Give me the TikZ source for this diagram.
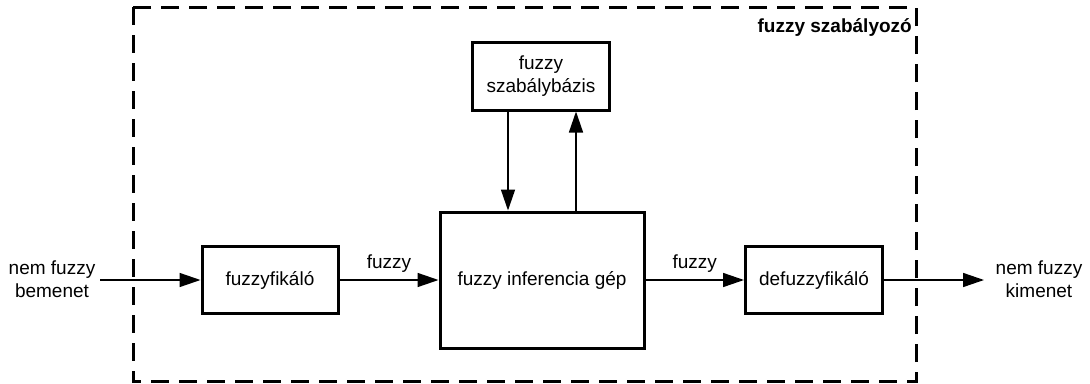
\documentclass[tikz,border=0pt]{standalone}
\usepackage{fontspec}
\setmainfont{Liberation Sans}
\usetikzlibrary{arrows.meta}
\begin{document}
\begin{tikzpicture}[x=1pt,y=-1pt,
    every node/.style={font=\fontsize{19}{23}\selectfont},
    block/.style={draw,line width=3pt,inner sep=0pt,align=center},
    flow/.style={line width=1.5pt,-{Triangle[length=21pt,width=14pt]}},
    frame/.style={line width=3pt,dash pattern=on 18pt off 10pt},
    lbl/.style={inner sep=0pt,align=center}]
  \useasboundingbox (0,0) rectangle (1090,383);
  % outer dashed frame of the controller
  \draw[frame] (133,7) rectangle (916,381);
  \node[lbl,anchor=east,font=\fontsize{19}{23}\selectfont\bfseries] (title) at (912,28) {fuzzy szabályozó};
  % blocks
  \node[block,minimum width=136pt,minimum height=67pt] (fuz) at (270,280) {fuzzyfikáló};
  \node[block,minimum width=204pt,minimum height=136pt] (inf) at (542,280) {fuzzy inferencia gép};
  \node[block,minimum width=137pt,minimum height=67pt] (defuz) at (814,280) {defuzzyfikáló};
  \node[block,minimum width=137pt,minimum height=68pt] (rules) at (541,76) {fuzzy\\szabálybázis};
  % external signals
  \node[lbl] (inlbl) at (52,279) {nem fuzzy\\bemenet};
  \node[lbl] (outlbl) at (1039,279) {nem fuzzy\\kimenet};
  \coordinate (inp) at (100,280);
  \coordinate (outp) at (984,280);
  % connectors
  \draw[flow] (inp) -- (fuz.west);
  \draw[flow] (fuz.east) -- node[lbl,above=7pt] (f1) {fuzzy} (inf.west);
  \draw[flow] (inf.east) -- node[lbl,above=7pt] (f2) {fuzzy} (defuz.west);
  \draw[flow] (defuz.east) -- (outp);
  \draw[flow] (rules.south -| 508,0) -- (inf.north -| 508,0);
  \draw[flow] (inf.north -| 576,0) -- (rules.south -| 576,0);
\end{tikzpicture}
\end{document}
